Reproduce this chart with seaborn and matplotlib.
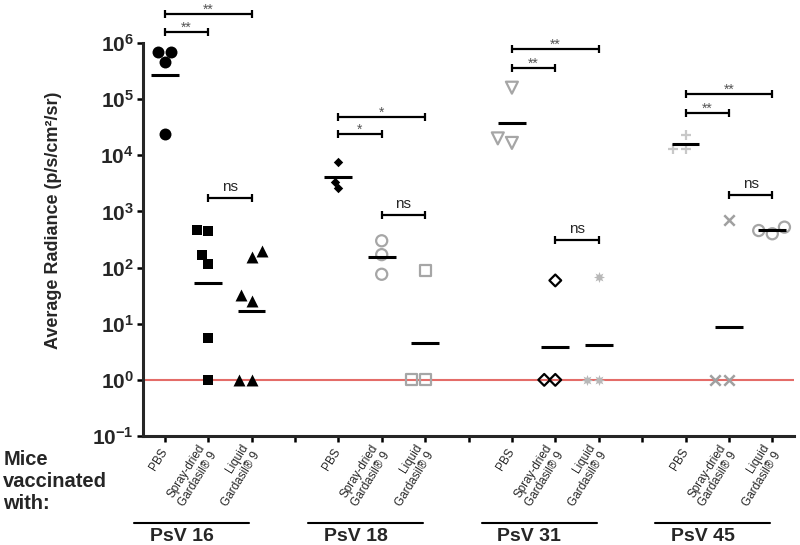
import numpy as np
import pandas as pd
import matplotlib
matplotlib.use("Agg")
import matplotlib.pyplot as plt
import matplotlib.transforms as mtransforms
from matplotlib.ticker import NullLocator
import seaborn as sns

# ==========================================
# Data
# ==========================================
groups = ["PsV 16", "PsV 18", "PsV 31", "PsV 45"]
vaccines = ["PBS", "Spray-dried\nGardasil\u00ae 9", "Liquid\nGardasil\u00ae 9"]

psv16_pbs = [7.0e5, 7.0e5, 4.6e5, 2.4e4]
psv16_spray = [450, 460, 170, 115, 5.6, 1]
psv16_liquid = [155, 200, 33, 25, 1, 1]

psv18_pbs = [7600, 3300, 2600]
psv18_spray = [300, 170, 76]
psv18_liquid = [89, 1, 1]

psv31_pbs = [1.6e5, 2.0e4, 1.66e4]
psv31_spray = [59, 1, 1]
psv31_liquid = [69, 1, 1]

psv45_pbs = [2.3e4, 1.3e4, 1.3e4]
psv45_spray = [690, 1, 1]
psv45_liquid = [525, 457, 400]

values = [psv16_pbs, psv16_spray, psv16_liquid,
          psv18_pbs, psv18_spray, psv18_liquid,
          psv31_pbs, psv31_spray, psv31_liquid,
          psv45_pbs, psv45_spray, psv45_liquid]

# significance: (vaccine a, vaccine b) -> label / bracket height
sig_pairs = [(0, 1), (0, 2), (1, 2)]
sig_text = {"PsV 16": ["**", "**", "ns"], "PsV 18": ["*", "*", "ns"],
            "PsV 31": ["**", "**", "ns"], "PsV 45": ["**", "**", "ns"]}
sig_height = {"PsV 16": [1.6e6, 3.3e6, 1.75e3], "PsV 18": [2.4e4, 4.9e4, 870],
              "PsV 31": [3.6e5, 7.8e5, 316], "PsV 45": [5.75e4, 1.23e5, 1.95e3]}

# ==========================================
# Styles
# ==========================================
GRAY = "#a6a6a6"
styles = [
    dict(marker="o", color="black", size=8.6),
    dict(marker="s", color="black", size=7.9),
    dict(marker="^", color="black", size=8.6),
    dict(marker="D", color="black", size=4.8),
    dict(marker="o", color=GRAY, size=8.0, facecolor="none", edgecolor=GRAY, linewidth=1.6),
    dict(marker="s", color=GRAY, size=8.0, facecolor="none", edgecolor=GRAY, linewidth=1.6),
    dict(marker="v", color=GRAY, size=8.6, facecolor="none", edgecolor=GRAY, linewidth=1.6),
    dict(marker="D", color="black", size=6.0, facecolor="none", edgecolor="black", linewidth=1.6),
    dict(marker=(8, 1, 0), color="#b8b8b8", size=8.0),
    dict(marker="+", color="#c8c8c8", size=7.0, edgecolor="#c8c8c8", linewidth=1.6),
    dict(marker="x", color="#a0a0a0", size=7.5, edgecolor="#a0a0a0", linewidth=1.8),
    dict(marker="o", color=GRAY, size=8.0, facecolor="none", edgecolor=GRAY, linewidth=1.6),
]

# category slots, with an empty slot between the PsV groups
slots, slot_labels, data_slots = [], [], []
for gi, g in enumerate(groups):
    for vi, v in enumerate(vaccines):
        slots.append(f"{g}|{v}")
        slot_labels.append(v)
        data_slots.append(f"{g}|{v}")
    if gi < len(groups) - 1:
        slots.append(f"gap{gi}")
        slot_labels.append("")

rows = []
for key, vals in zip(data_slots, values):
    for val in vals:
        rows.append({"slot": key, "radiance": val})
df = pd.DataFrame(rows)

# ==========================================
# Plot
# ==========================================
sns.set_style("ticks")
plt.rcParams["font.family"] = ["Liberation Sans", "DejaVu Sans"]
plt.rcParams["mathtext.fontset"] = "custom"
plt.rcParams["mathtext.rm"] = "Liberation Sans"
plt.rcParams["mathtext.bf"] = "Liberation Sans:bold"

fig = plt.figure(figsize=(8, 5.45), dpi=100)
ax = fig.add_axes([143 / 800, 1 - 436 / 545, 651 / 800, 393 / 545])
ax.set_yscale("log")

ax.axhline(1, color="#e46c68", lw=1.5, zorder=1)

for key, st in zip(data_slots, styles):
    sub = df[df["slot"] == key]
    sns.swarmplot(data=sub, x="slot", y="radiance", order=slots, ax=ax, **st)

# geometric mean lines
for key in data_slots:
    pos = slots.index(key)
    vals = df.loc[df["slot"] == key, "radiance"].to_numpy()
    gm = 10 ** np.mean(np.log10(vals))
    ax.hlines(gm, pos - 0.32, pos + 0.32, color="black", lw=2.2, zorder=4)

ax.set_ylim(0.1, 1e6)
ax.set_xlim(-0.5, len(slots) - 0.5)
ax.set_yticks([10.0 ** k for k in range(-1, 7)])
ax.set_yticklabels([r"$\mathbf{10^{%d}}$" % k for k in range(-1, 7)], fontsize=15)
ax.yaxis.set_minor_locator(NullLocator())
ax.set_xticks(range(len(slots)))
ax.set_xticklabels(slot_labels, rotation=58, ha="right", rotation_mode="anchor",
                   fontsize=8.5, va="center")
ax.tick_params(axis="both", width=1.8, length=4.5, color="black")
ax.tick_params(axis="y", pad=2)
ax.tick_params(axis="x", pad=5)
ax.set_xlabel("")
ax.set_ylabel("Average Radiance (p/s/cm\u00b2/sr)", fontsize=13, fontweight="bold")
ax.yaxis.set_label_coords(-0.125, 0.55)
for side in ["left", "bottom"]:
    ax.spines[side].set_linewidth(2.2)
sns.despine(ax=ax)

# significance brackets
for g in groups:
    base = slots.index(f"{g}|{vaccines[0]}")
    for (a, b), txt, h in zip(sig_pairs, sig_text[g], sig_height[g]):
        ax.plot([base + a, base + b], [h, h], color="black", lw=1.6,
                marker="|", markersize=6, mew=1.6, clip_on=False, zorder=5)
        mid = base + (a + b) / 2
        if txt == "ns":
            ax.annotate(txt, (mid, h), xytext=(0, 5), textcoords="offset points",
                        ha="center", va="baseline", fontsize=11, annotation_clip=False)
        else:
            ax.annotate(txt, (mid, h), xytext=(0, 0), textcoords="offset points",
                        ha="center", va="baseline", fontsize=10, color="#555555",
                        annotation_clip=False)

# group labels under the axis
trans = mtransforms.blended_transform_factory(ax.transData, fig.transFigure)
for g in groups:
    base = slots.index(f"{g}|{vaccines[0]}")
    ax.plot([base - 0.7, base + 1.95], [0.0404, 0.0404], color="black", lw=1.5,
            transform=trans, clip_on=False)
    ax.text(base + 0.4, 0.015, g, transform=trans, ha="center", va="center",
            fontsize=14, fontweight="bold")

fig.text(0.004, 0.117, "Mice\nvaccinated\nwith:", ha="left", va="center",
         fontsize=14.5, fontweight="bold", linespacing=1.2)

fig.savefig("out.png", dpi=100)
